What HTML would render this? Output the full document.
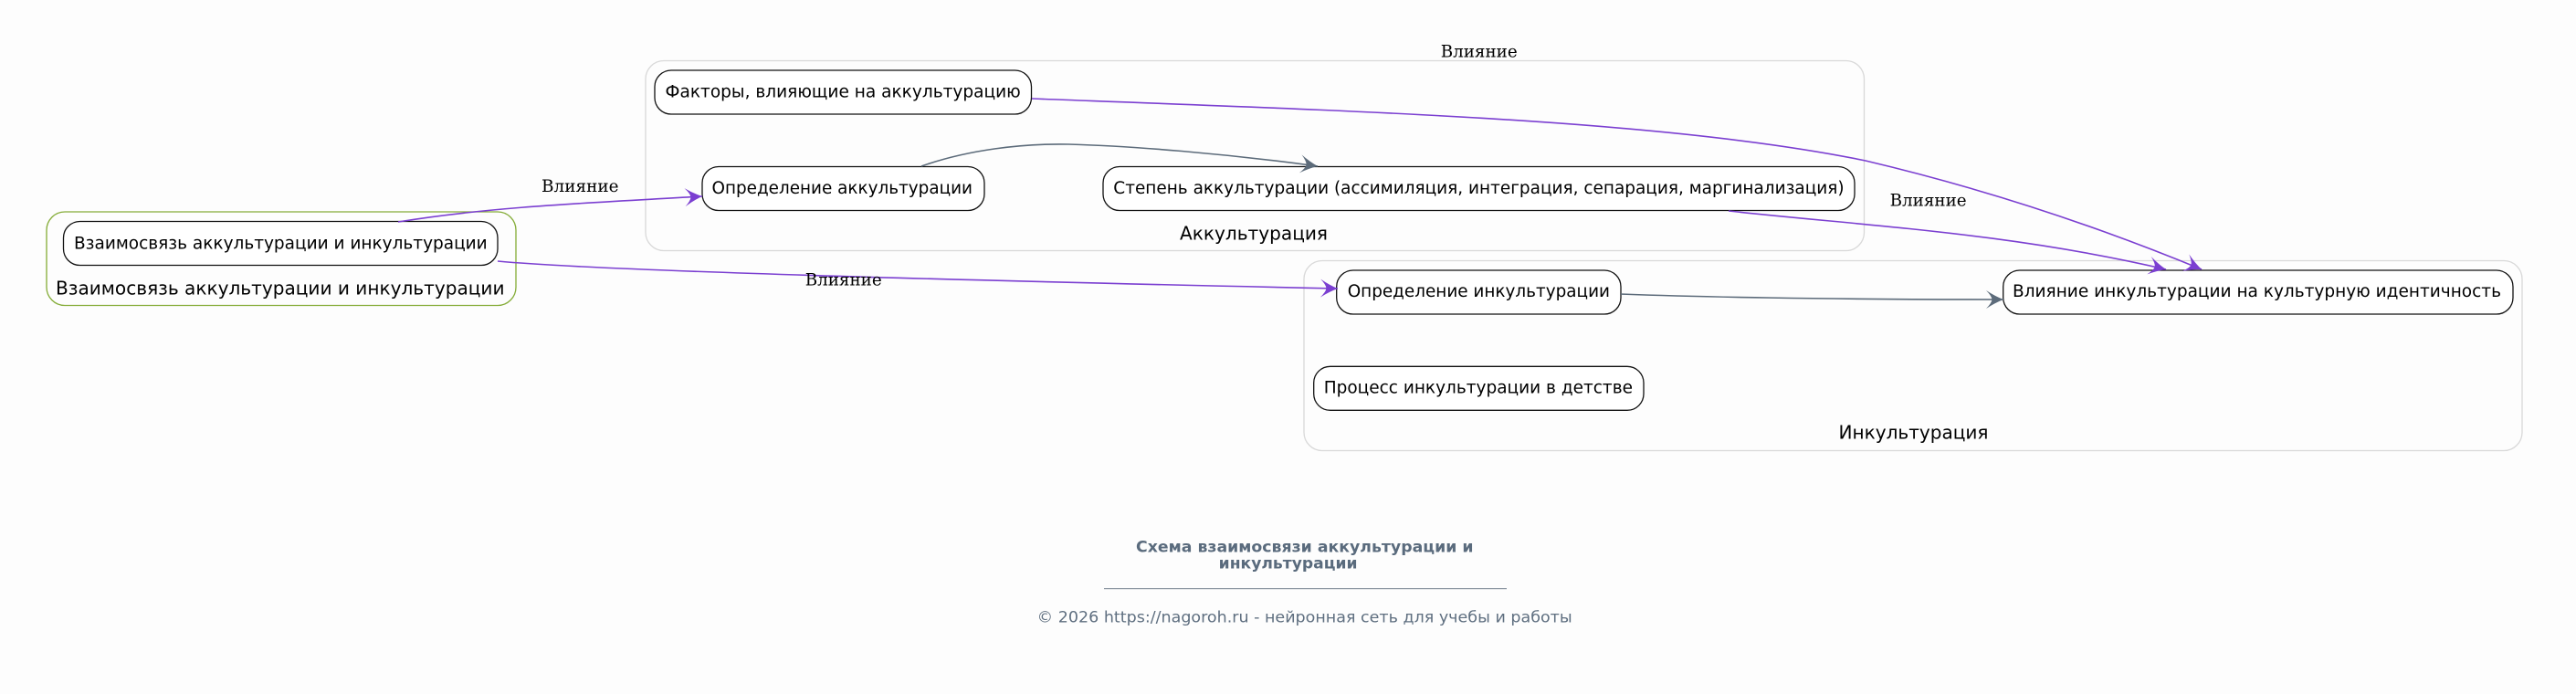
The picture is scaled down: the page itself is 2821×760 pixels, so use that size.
<!DOCTYPE html>
<html lang="ru">
<head>
<meta charset="utf-8">
<title>Схема взаимосвязи аккультурации и инкультурации</title>
<style>
html,body{margin:0;padding:0;background:#fdfdfd;width:2821px;height:760px;overflow:hidden}
svg{display:block}
.n{font-family:"DejaVu Sans",sans-serif;font-size:18.5px;fill:#000}
.c{font-family:"DejaVu Sans",sans-serif;font-size:20px;fill:#000}
.e{font-family:"DejaVu Serif",serif;font-size:18.5px;fill:#000}
.node{fill:#fff;stroke:#111;stroke-width:1.3}
.cl{fill:none;stroke:#d9d9d9;stroke-width:1.33}
.p{fill:none;stroke:#7b3fd1;stroke-width:1.6}
.g{fill:none;stroke:#5c6b7a;stroke-width:1.6}
</style>
</head>
<body>
<svg width="2821" height="760" viewBox="0 0 2821 760" xmlns="http://www.w3.org/2000/svg">
<defs>
<marker id="ap" markerUnits="userSpaceOnUse" viewBox="-22 -12 24 24" refX="0" refY="0" markerWidth="24" markerHeight="24" orient="auto">
<path d="M0,0 Q-9,-3.5 -19,-10 Q-13,-4 -12.5,0 Q-13,4 -19,10 Q-9,3.5 0,0 Z" fill="#7b3fd1"/>
</marker>
<marker id="ag" markerUnits="userSpaceOnUse" viewBox="-22 -12 24 24" refX="0" refY="0" markerWidth="24" markerHeight="24" orient="auto">
<path d="M0,0 Q-9,-3.5 -19,-10 Q-13,-4 -12.5,0 Q-13,4 -19,10 Q-9,3.5 0,0 Z" fill="#5c6b7a"/>
</marker>
</defs>
<rect width="2821" height="760" fill="#fdfdfd"/>

<!-- clusters -->
<rect class="cl" x="707" y="66.5" width="1334.5" height="208" rx="20" ry="20"/>
<rect class="cl" x="1428" y="285.5" width="1334" height="208" rx="20" ry="20"/>
<rect x="51" y="232" width="514" height="102.5" rx="20" ry="20" fill="none" stroke="#86ad3a" stroke-width="1.33"/>

<text class="c" x="61" y="322.5" textLength="491.5" lengthAdjust="spacingAndGlyphs">Взаимосвязь аккультурации и инкультурации</text>
<text class="c" x="1292" y="262.5" textLength="162" lengthAdjust="spacingAndGlyphs">Аккультурация</text>
<text class="c" x="2013.5" y="480.5" textLength="164" lengthAdjust="spacingAndGlyphs">Инкультурация</text>

<!-- nodes -->
<rect class="node" x="69.5" y="242.5" width="475.5" height="48" rx="18" ry="18"/>
<rect class="node" x="717" y="77" width="412.5" height="48" rx="18" ry="18"/>
<rect class="node" x="769" y="182.5" width="309" height="48" rx="18" ry="18"/>
<rect class="node" x="1208" y="182.5" width="823" height="48" rx="18" ry="18"/>
<rect class="node" x="1463.7" y="296" width="311.3" height="48" rx="18" ry="18"/>
<rect class="node" x="2193.7" y="296" width="558.3" height="48" rx="18" ry="18"/>
<rect class="node" x="1438.7" y="401.3" width="361.3" height="48" rx="18" ry="18"/>

<text class="n" x="81" y="272.5" textLength="452.7" lengthAdjust="spacingAndGlyphs">Взаимосвязь аккультурации и инкультурации</text>
<text class="n" x="728.5" y="106.5" textLength="389.3" lengthAdjust="spacingAndGlyphs">Факторы, влияющие на аккультурацию</text>
<text class="n" x="779.5" y="212" textLength="285.5" lengthAdjust="spacingAndGlyphs">Определение аккультурации</text>
<text class="n" x="1219.3" y="212" textLength="800.3" lengthAdjust="spacingAndGlyphs">Степень аккультурации (ассимиляция, интеграция, сепарация, маргинализация)</text>
<text class="n" x="1475.7" y="325" textLength="287.3" lengthAdjust="spacingAndGlyphs">Определение инкультурации</text>
<text class="n" x="2204" y="325" textLength="535" lengthAdjust="spacingAndGlyphs">Влияние инкультурации на культурную идентичность</text>
<text class="n" x="1449.7" y="430.3" textLength="338.3" lengthAdjust="spacingAndGlyphs">Процесс инкультурации в детстве</text>

<!-- edges -->
<path class="p" marker-end="url(#ap)" d="M436,243 C540,226 650,222 769,215"/>
<path class="p" marker-end="url(#ap)" d="M545,286 C650,296 1000,306 1465,316"/>
<path class="p" marker-end="url(#ap)" d="M1130,108 C1500,122 1830,132 2043,176 C2170,206 2290,245 2411,295"/>
<path class="p" marker-end="url(#ap)" d="M1893,231 C2050,248 2200,255 2372,295"/>
<path class="g" marker-end="url(#ag)" d="M1009,182 C1060,164 1120,157 1170,158 C1240,160 1340,168 1443,182"/>
<path class="g" marker-end="url(#ag)" d="M1775,322 C1850,325 2000,328 2194,328"/>

<!-- edge labels -->
<text class="e" x="593" y="210" textLength="84.5" lengthAdjust="spacingAndGlyphs">Влияние</text>
<text class="e" x="881.7" y="312.3" textLength="84" lengthAdjust="spacingAndGlyphs">Влияние</text>
<text class="e" x="1577.7" y="62.5" textLength="84" lengthAdjust="spacingAndGlyphs">Влияние</text>
<text class="e" x="2069.6" y="225.7" textLength="84" lengthAdjust="spacingAndGlyphs">Влияние</text>

<!-- footer -->
<text x="1244" y="604.3" font-family="'DejaVu Sans',sans-serif" font-size="16.5" font-weight="700" fill="#5a6b7d" textLength="369.5" lengthAdjust="spacingAndGlyphs">Схема взаимосвязи аккультурации и</text>
<text x="1334.7" y="622.3" font-family="'DejaVu Sans',sans-serif" font-size="16.5" font-weight="700" fill="#5a6b7d" textLength="151.8" lengthAdjust="spacingAndGlyphs">инкультурации</text>
<rect x="1209" y="644" width="441" height="1.2" fill="#8b96a1"/>
<text x="1135.7" y="681.7" font-family="'DejaVu Sans',sans-serif" font-size="17" fill="#5f6f80" textLength="586" lengthAdjust="spacingAndGlyphs">© 2026 https://nagoroh.ru - нейронная сеть для учебы и работы</text>
</svg>
</body>
</html>
